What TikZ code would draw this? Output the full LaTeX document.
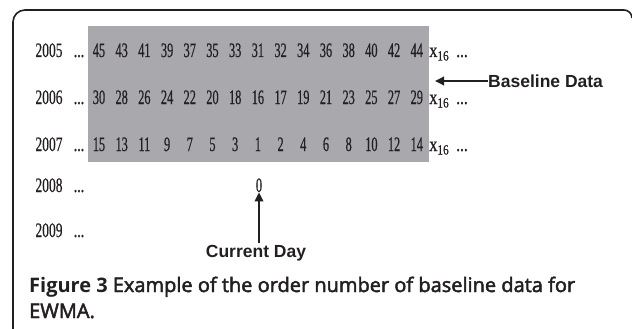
\documentclass[tikz,border=0pt]{standalone}
\usepackage{graphicx}
\usepackage{fontspec}
\setmainfont{Liberation Serif}
\newfontfamily\numfont{Liberation Serif}[FakeBold=0.7]
\newfontfamily\labelfont{Liberation Sans}
\newfontfamily\capfont{Open Sans}
\newfontfamily\capmed{Open Sans}[FakeBold=2.4]
\usetikzlibrary{arrows.meta}
\definecolor{boxgray}{RGB}{169,169,173}
\definecolor{ink}{RGB}{35,31,32}
\newcommand{\narrow}[2]{\scalebox{#1}[1]{#2}}
\tikzset{
  num/.style={anchor=base, inner sep=0pt, text=ink, font=\fontsize{20.5}{20.5}\numfont},
  tag/.style={inner sep=0pt, text=ink, font=\fontsize{17.5}{17.5}\labelfont\bfseries},
  pointer/.style={draw=ink, line width=1.8pt, -{Triangle[length=9pt,width=8.5pt]}},
  captext/.style={anchor=base west, inner sep=0pt, text=ink, font=\fontsize{20}{20}\selectfont},
}
\begin{document}
\begin{tikzpicture}[x=1pt,y=-1pt]
\useasboundingbox (0,0) rectangle (632,329);
% frame open at the bottom, its right corner cut by the page edge
\draw[ink, line width=1.6pt] (13,329) -- (13,22) .. controls (13,15.4) and (18.4,10) .. (25,10)
  -- (624,10) .. controls (628.4,10) and (632,13.6) .. (632,18);
% shaded block of baseline values
\fill[boxgray] (88,26) rectangle (429,162);
% years and leading dots
\foreach \yy/\b in {2005/57, 2006/104, 2007/151, 2008/192, 2009/237}{
  \node[num] (y\yy) at (49,\b) {\narrow{0.66}{\yy}};
  \node[num] (d\yy) at (79,\b) {\narrow{0.68}{...}};
}
% order numbers
\foreach \v [count=\i from 0] in {45,43,41,39,37,35,33,31,32,34,36,38,40,42,44}{
  \node[num] (a\i) at ({99+22.7*\i},57) {\narrow{0.6}{\v}};
}
\foreach \v [count=\i from 0] in {30,28,26,24,22,20,18,16,17,19,21,23,25,27,29}{
  \node[num] (b\i) at ({99+22.7*\i},104) {\narrow{0.6}{\v}};
}
\foreach \v [count=\i from 0] in {15,13,11,9,7,5,3,1,2,4,6,8,10,12,14}{
  \node[num] (c\i) at ({99+22.7*\i},151) {\narrow{0.6}{\v}};
}
\foreach \r/\b in {a/57, b/104, c/151}{
  \node[num] (x\r) at (439,\b) {\narrow{0.8}{x\raisebox{-3.5pt}{\fontsize{14}{14}\numfont 16}}};
  \node[num] (e\r) at (462,\b) {\narrow{0.75}{...}};
}
\node[num] (zero) at (259,192) {\narrow{0.6}{0}};
% labels and pointers
\node[tag, anchor=west] (base) at (488,81) {Baseline Data};
\coordinate (basetip) at (435,81);
\draw[pointer] (base.west) -- (basetip);
\node[tag] (cur) at (256,253.5) {Current Day};
\draw[pointer] ([yshift=2pt]cur.north -| zero) -- (zero.south);
% caption
\node[captext] (cap1) at (29,292) {{\capfont\bfseries Figure 3} {\capmed Example of the order number of baseline data for}};
\node[captext] (cap2) at (29,318) {\capmed EWMA.};
\end{tikzpicture}
\end{document}
